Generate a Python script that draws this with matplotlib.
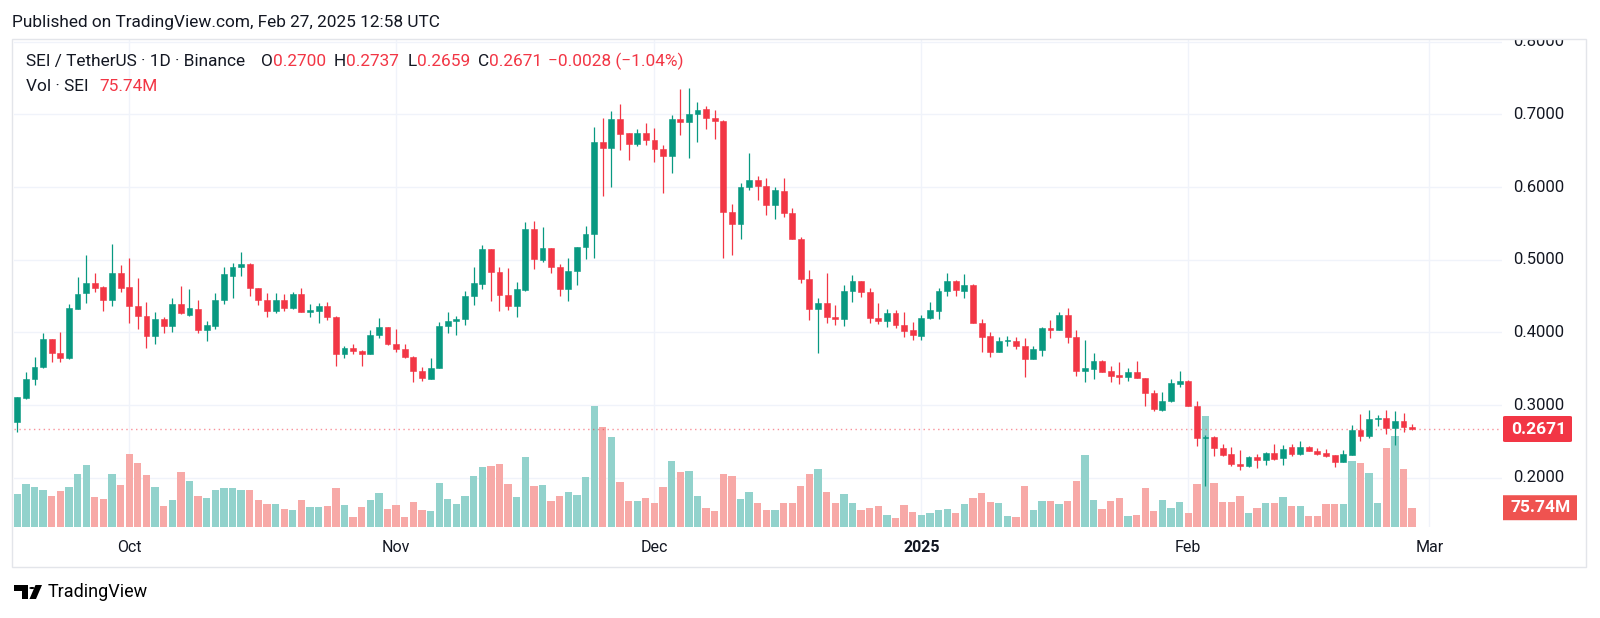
import numpy as np
import pandas as pd
import matplotlib
matplotlib.use("Agg")
import matplotlib.pyplot as plt
from matplotlib.patches import Rectangle, Polygon, Circle, FancyBboxPatch
from matplotlib.lines import Line2D
from matplotlib.transforms import blended_transform_factory, Bbox, TransformedBbox

plt.rcParams['font.family'] = ['Roboto', 'DejaVu Sans']

# =============================================================================
# Data: SEI/USDT daily candles, Binance
# =============================================================================

dates = pd.date_range("2024-09-18", periods=163, freq="D")

opens = [
    0.2772, 0.3102, 0.3354, 0.3524, 0.3909, 0.3712, 0.3643, 0.4326, 0.4542, 0.4675,
    0.4624, 0.4446, 0.4822, 0.4620, 0.4363, 0.4221, 0.3946, 0.4189, 0.4093, 0.4386,
    0.4244, 0.4317, 0.4028, 0.4093, 0.4446, 0.4776, 0.4904, 0.4941, 0.4606, 0.4446,
    0.4299, 0.4446, 0.4340, 0.4528, 0.4276, 0.4299, 0.4363, 0.4216, 0.3707, 0.3781,
    0.3740, 0.3707, 0.3960, 0.4070, 0.3845, 0.3776, 0.3662, 0.3474, 0.3363, 0.3515,
    0.4088, 0.4161, 0.4184, 0.4496, 0.4670, 0.5147, 0.4826, 0.4515, 0.4368, 0.4583,
    0.5422, 0.4996, 0.5157, 0.4895, 0.4602, 0.4840, 0.5170, 0.5354, 0.6624, 0.6541,
    0.6936, 0.6738, 0.6596, 0.6738, 0.6642, 0.6527, 0.6431, 0.6936, 0.6894, 0.7004,
    0.7068, 0.6949, 0.6908, 0.5661, 0.5496, 0.6000, 0.6092, 0.6014, 0.5748, 0.5950,
    0.5647, 0.5280, 0.4739, 0.4327, 0.4409, 0.4212, 0.4185, 0.4565, 0.4703, 0.4556,
    0.4198, 0.4162, 0.4272, 0.4107, 0.4033, 0.3955, 0.4198, 0.4300, 0.4570, 0.4712,
    0.4574, 0.4652, 0.4134, 0.3946, 0.3735, 0.3877, 0.3886, 0.3818, 0.3634, 0.3763,
    0.4061, 0.4038, 0.4239, 0.3932, 0.3474, 0.3501, 0.3607, 0.3465, 0.3414, 0.3391,
    0.3451, 0.3368, 0.3171, 0.2933, 0.3051, 0.3294, 0.3326, 0.2991, 0.2542, 0.2560,
    0.2413, 0.2322, 0.2193, 0.2156, 0.2285, 0.2239, 0.2335, 0.2271, 0.2418, 0.2331,
    0.2427, 0.2372, 0.2335, 0.2308, 0.2212, 0.2317, 0.2662, 0.2570, 0.2808, 0.2817,
    0.2685, 0.2776, 0.2700,
]
highs = [
    0.3110, 0.3450, 0.3666, 0.3987, 0.3915, 0.4001, 0.4386, 0.4757, 0.5065, 0.4812,
    0.4643, 0.5216, 0.4927, 0.5028, 0.4744, 0.4413, 0.4280, 0.4207, 0.4469, 0.4638,
    0.4597, 0.4440, 0.4157, 0.4546, 0.4904, 0.4959, 0.5110, 0.4959, 0.4610, 0.4546,
    0.4546, 0.4528, 0.4560, 0.4606, 0.4386, 0.4400, 0.4413, 0.4225, 0.3817, 0.3836,
    0.3753, 0.4033, 0.4203, 0.4079, 0.4042, 0.3845, 0.3675, 0.3529, 0.3648, 0.4148,
    0.4280, 0.4225, 0.4569, 0.4900, 0.5202, 0.5150, 0.4895, 0.4886, 0.4693, 0.5523,
    0.5533, 0.5455, 0.5160, 0.4941, 0.5019, 0.5170, 0.5464, 0.6821, 0.6954, 0.7046,
    0.7142, 0.6740, 0.6798, 0.6876, 0.6807, 0.6573, 0.6991, 0.7348, 0.7362, 0.7165,
    0.7114, 0.7059, 0.6920, 0.5767, 0.6060, 0.6473, 0.6152, 0.6120, 0.6005, 0.6120,
    0.5707, 0.5317, 0.4859, 0.4469, 0.4813, 0.4377, 0.4652, 0.4785, 0.4712, 0.4616,
    0.4400, 0.4322, 0.4309, 0.4281, 0.4148, 0.4240, 0.4414, 0.4616, 0.4812, 0.4720,
    0.4799, 0.4666, 0.4184, 0.4001, 0.3932, 0.3950, 0.3932, 0.3928, 0.3818, 0.4070,
    0.4171, 0.4285, 0.4336, 0.4033, 0.3895, 0.3712, 0.3620, 0.3538, 0.3593, 0.3510,
    0.3611, 0.3370, 0.3208, 0.3180, 0.3358, 0.3473, 0.3349, 0.3051, 0.2592, 0.2569,
    0.2468, 0.2427, 0.2381, 0.2299, 0.2326, 0.2358, 0.2469, 0.2455, 0.2459, 0.2510,
    0.2431, 0.2409, 0.2400, 0.2317, 0.2377, 0.2730, 0.2877, 0.2937, 0.2863, 0.2937,
    0.2923, 0.2891, 0.2737,
]
lows = [
    0.2635, 0.3090, 0.3276, 0.3515, 0.3597, 0.3597, 0.3629, 0.4317, 0.4409, 0.4560,
    0.4299, 0.4363, 0.4560, 0.4134, 0.4047, 0.3785, 0.3840, 0.3996, 0.4010, 0.4248,
    0.4230, 0.3996, 0.3886, 0.4047, 0.4395, 0.4469, 0.4776, 0.4501, 0.4372, 0.4216,
    0.4271, 0.4299, 0.4317, 0.4276, 0.4207, 0.4134, 0.4170, 0.3538, 0.3652, 0.3707,
    0.3538, 0.3707, 0.3927, 0.3831, 0.3735, 0.3643, 0.3313, 0.3327, 0.3363, 0.3515,
    0.3996, 0.3964, 0.4102, 0.4377, 0.4597, 0.4432, 0.4299, 0.4308, 0.4207, 0.4574,
    0.4872, 0.4973, 0.4813, 0.4505, 0.4432, 0.4652, 0.5010, 0.5024, 0.5876, 0.6005,
    0.6509, 0.6372, 0.6564, 0.6573, 0.6340, 0.5918, 0.6197, 0.6711, 0.6404, 0.6615,
    0.6798, 0.6656, 0.5019, 0.5065, 0.5280, 0.5959, 0.5822, 0.5615, 0.5560, 0.5592,
    0.5280, 0.4675, 0.4171, 0.3722, 0.4134, 0.4102, 0.4093, 0.4419, 0.4483, 0.4134,
    0.4116, 0.4079, 0.4065, 0.3942, 0.3896, 0.3896, 0.4185, 0.4185, 0.4501, 0.4501,
    0.4469, 0.4134, 0.3735, 0.3666, 0.3735, 0.3813, 0.3767, 0.3391, 0.3634, 0.3680,
    0.3918, 0.4038, 0.3859, 0.3400, 0.3322, 0.3354, 0.3460, 0.3322, 0.3290, 0.3336,
    0.3368, 0.2988, 0.2923, 0.2919, 0.3042, 0.3252, 0.2991, 0.2432, 0.1882, 0.2303,
    0.2303, 0.2166, 0.2101, 0.2143, 0.2134, 0.2171, 0.2249, 0.2171, 0.2294, 0.2317,
    0.2368, 0.2313, 0.2285, 0.2143, 0.2212, 0.2317, 0.2510, 0.2542, 0.2707, 0.2602,
    0.2451, 0.2634, 0.2659,
]
closes = [
    0.3107, 0.3354, 0.3529, 0.3909, 0.3712, 0.3648, 0.4331, 0.4528, 0.4675, 0.4615,
    0.4446, 0.4822, 0.4615, 0.4368, 0.4221, 0.3946, 0.4189, 0.4093, 0.4386, 0.4262,
    0.4331, 0.4028, 0.4097, 0.4450, 0.4799, 0.4899, 0.4941, 0.4606, 0.4446, 0.4299,
    0.4450, 0.4340, 0.4528, 0.4276, 0.4308, 0.4363, 0.4216, 0.3707, 0.3781, 0.3740,
    0.3707, 0.3964, 0.4070, 0.3845, 0.3776, 0.3657, 0.3474, 0.3368, 0.3515, 0.4093,
    0.4161, 0.4189, 0.4501, 0.4675, 0.5147, 0.4826, 0.4515, 0.4368, 0.4597, 0.5422,
    0.5005, 0.5157, 0.4895, 0.4602, 0.4845, 0.5170, 0.5358, 0.6624, 0.6541, 0.6936,
    0.6734, 0.6596, 0.6738, 0.6647, 0.6527, 0.6431, 0.6936, 0.6900, 0.7004, 0.7059,
    0.6954, 0.6908, 0.5661, 0.5496, 0.6000, 0.6092, 0.6014, 0.5748, 0.5955, 0.5647,
    0.5280, 0.4739, 0.4327, 0.4409, 0.4212, 0.4185, 0.4570, 0.4703, 0.4556, 0.4198,
    0.4162, 0.4272, 0.4107, 0.4024, 0.3965, 0.4198, 0.4309, 0.4570, 0.4712, 0.4583,
    0.4647, 0.4134, 0.3941, 0.3735, 0.3886, 0.3895, 0.3818, 0.3634, 0.3767, 0.4061,
    0.4038, 0.4239, 0.3932, 0.3474, 0.3506, 0.3607, 0.3460, 0.3405, 0.3391, 0.3451,
    0.3368, 0.3171, 0.2946, 0.3052, 0.3298, 0.3326, 0.2991, 0.2546, 0.2560, 0.2413,
    0.2317, 0.2184, 0.2156, 0.2285, 0.2239, 0.2335, 0.2263, 0.2399, 0.2331, 0.2427,
    0.2372, 0.2326, 0.2303, 0.2212, 0.2322, 0.2656, 0.2570, 0.2808, 0.2812, 0.2680,
    0.2776, 0.2699, 0.2671,
]
# volume in millions of SEI
volumes = [
    130, 170, 158, 146, 121, 142, 158, 211, 245, 117,
    109, 211, 166, 289, 254, 207, 158, 82, 105, 219,
    181, 121, 113, 146, 154, 154, 146, 146, 105, 89,
    89, 70, 66, 105, 78, 78, 82, 154, 86, 40,
    78, 105, 134, 70, 86, 40, 97, 66, 62, 173,
    109, 89, 121, 203, 238, 242, 250, 170, 117, 277,
    162, 166, 101, 121, 140, 128, 197, 483, 399, 356,
    178, 101, 101, 113, 93, 158, 262, 219, 223, 121,
    74, 63, 209, 203, 109, 140, 93, 66, 66, 93,
    93, 162, 209, 230, 140, 93, 130, 93, 66, 73,
    81, 47, 36, 85, 59, 47, 53, 66, 69, 53,
    89, 116, 133, 97, 93, 43, 40, 161, 66, 101,
    101, 89, 101, 181, 287, 105, 70, 101, 116, 43,
    47, 153, 62, 105, 74, 97, 55, 170, 440, 174,
    97, 97, 121, 55, 74, 93, 93, 117, 82, 82,
    44, 44, 90, 90, 90, 262, 254, 215, 94, 313,
    362, 231, 75.74,
]

price_ticks = [0.2, 0.3, 0.4, 0.5, 0.6, 0.7, 0.8]

# =============================================================================
# Styling
# =============================================================================

W, H = 1600, 618
GREEN = '#089981'
RED = '#F23645'
VOL_GREEN = '#92D2CC'
VOL_RED = '#F7A9A7'
TEXT = '#131722'
GRID = '#F0F3FA'
HEAD_SIZE = 12.4


def fx(x):
    return x / W


def fy(y):
    return 1 - y / H


x = np.array((dates - dates[0]).days, dtype=float)
o = np.array(opens)
h = np.array(highs)
l = np.array(lows)
c = np.array(closes)
v = np.array(volumes)
up = c >= o

fig = plt.figure(figsize=(16, 6.18), dpi=100)
fig.patch.set_facecolor('white')
pos = [fx(14), fy(526.7), fx(1502) - fx(14), fy(39) - fy(526.7)]
axv = fig.add_axes(pos)
ax = fig.add_axes(pos, sharex=axv)
ax.patch.set_alpha(0)

for a in (axv, ax):
    for s in a.spines.values():
        s.set_visible(False)
    a.tick_params(left=False, right=False, top=False, bottom=False,
                  labelleft=False, labelright=False, labelbottom=False, labeltop=False)

ax.set_xlim(-0.383, 172.44)
ax.set_ylim(0.1327, 0.8036)
axv.set_ylim(0, 1946)

# grid (drawn under the volume bars)
grid_tr = blended_transform_factory(axv.transAxes, ax.transData)
for p in price_ticks:
    axv.add_line(Line2D([0, 1], [p, p], transform=grid_tr, color=GRID, lw=1, zorder=0))

month_starts = pd.date_range("2024-10-01", "2025-03-01", freq="MS")
month_x = np.array((month_starts - dates[0]).days, dtype=float)
for mx in month_x:
    axv.axvline(mx, color=GRID, lw=1, zorder=0)

# volume
axv.bar(x, v, width=0.85, color=np.where(up, VOL_GREEN, VOL_RED), zorder=2)

# candles
cols = np.where(up, GREEN, RED)
ax.vlines(x, l, h, colors=cols, lw=0.9, zorder=3)
body_lo = np.minimum(o, c)
body_h = np.maximum(np.abs(c - o), 0.0014)
ax.bar(x, body_h, bottom=body_lo, width=0.68, color=cols, edgecolor=cols, lw=0.4, zorder=4)

# last price line + labels
last = c[-1]
ax.axhline(last, color=RED, lw=1, ls=(0, (1, 2.5)), alpha=0.55, zorder=2)

lab_tr = blended_transform_factory(fig.transFigure, ax.transData)
clip = TransformedBbox(Bbox([[0, 0], [1, fy(39)]]), fig.transFigure)
for p in price_ticks:
    t = ax.text(fx(1513), p, f"{p:.4f}", transform=lab_tr, ha='left', va='center',
                fontsize=12, color=TEXT, clip_on=True)
    t.set_clip_box(clip)

# price badge: 26 px tall -> in price units
px_price = (0.8036 - 0.1327) / (526.7 - 39)
bh = 26 * px_price
ax.add_patch(FancyBboxPatch((fx(1503), last - bh / 2), fx(69), bh, transform=lab_tr,
                            boxstyle='round,pad=0,rounding_size=0.0015',
                            fc=RED, ec='none', zorder=6, clip_on=False))
ax.text(fx(1538.5), last, f"{last:.4f}", transform=lab_tr, ha='center', va='center',
        fontsize=12.5, color='white', fontweight='bold', zorder=7)

vol_tr = blended_transform_factory(fig.transFigure, axv.transData)
px_vol = 1946 / (526.7 - 39)
vh = 25 * px_vol
axv.add_patch(FancyBboxPatch((fx(1503), v[-1] - vh / 2), fx(74), vh, transform=vol_tr,
                             boxstyle='round,pad=0,rounding_size=0.0015',
                             fc='#EF5350', ec='none', zorder=6, clip_on=False))
axv.text(fx(1541), v[-1], f"{v[-1]:.2f}M", transform=vol_tr, ha='center', va='center',
         fontsize=12.5, color='white', fontweight='bold', zorder=7)

# time axis labels
time_tr = blended_transform_factory(ax.transData, fig.transFigure)
for mx, d in zip(month_x, month_starts):
    lbl = str(d.year) if d.month == 1 else d.strftime('%b')
    ax.text(mx, fy(548), lbl, transform=time_tr, ha='center', va='center',
            fontsize=11.5, color=TEXT, fontweight='bold' if d.month == 1 else 'normal')

# frame
fig.patches.append(Rectangle((fx(12), fy(566.7)), fx(1586) - fx(12), fy(39) - fy(566.7),
                             transform=fig.transFigure, fill=False, ec='#E3E5EA', lw=1))

# =============================================================================
# Header texts
# =============================================================================

renderer = fig.canvas.get_renderer()


def run(xp, yp, parts, size=HEAD_SIZE):
    for s, col in parts:
        t = fig.text(fx(xp), fy(yp), s, color=col, fontsize=size, ha='left', va='center')
        xp += t.get_window_extent(renderer).width
    return xp


run(12, 22, [("Published on TradingView.com, Feb 27, 2025 12:58 UTC", TEXT)])

chg = c[-1] - c[-2]
pct = chg / c[-2] * 100
ymid = 61.5
run(26, ymid, [("SEI / TetherUS · 1D · Binance", TEXT)])
run(261, ymid, [("O", TEXT), (f"{o[-1]:.4f}", RED)])
run(334, ymid, [("H", TEXT), (f"{h[-1]:.4f}", RED)])
run(408, ymid, [("L", TEXT), (f"{l[-1]:.4f}", RED)])
run(478, ymid, [("C", TEXT), (f"{c[-1]:.4f}", RED)])
run(548, ymid, [(f"{chg:+.4f} ({pct:+.2f}%)".replace('-', '\u2212'), RED)])
run(26, 86.5, [("Vol · SEI", TEXT)])
run(99, 86.5, [(f"{v[-1]:.2f}M", RED)])


# TradingView logo
def P(xp, yp):
    return (fx(xp), fy(yp))


logo = [
    Polygon([P(14, 585), P(28.5, 585), P(28.5, 599), P(22, 599), P(22, 590.5), P(14, 590.5)],
            closed=True, transform=fig.transFigure, fc='black', ec='none'),
    Polygon([P(35.5, 585), P(42, 585), P(36, 599), P(29.5, 599)],
            closed=True, transform=fig.transFigure, fc='black', ec='none'),
]
for pg in logo:
    fig.patches.append(pg)
fig.patches.append(Circle(P(32, 588), 2.7 / W, transform=fig.transFigure, fc='black', ec='none'))
fig.text(fx(48), fy(592), "TradingView", fontsize=13, color='black', ha='left', va='center')

fig.savefig("out.png", dpi=100, facecolor='white')
